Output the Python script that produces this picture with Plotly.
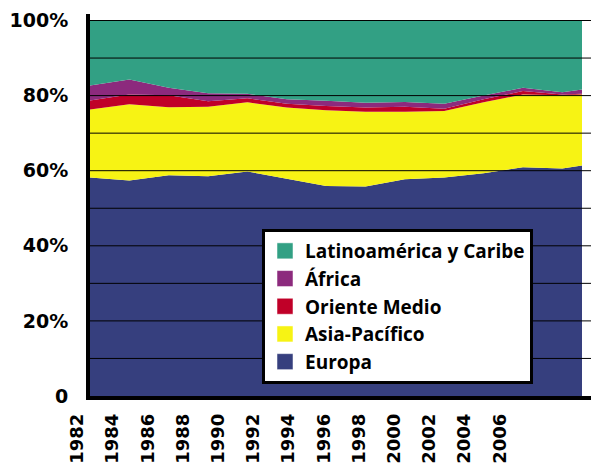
import plotly.graph_objects as go

years = [1982, 1984, 1986, 1988, 1990, 1992, 1994, 1996, 1998, 2000, 2002, 2004, 2006, 2007]
europa = [58.2, 57.4, 58.8, 58.5, 59.8, 57.8, 55.9, 55.8, 57.7, 58.2, 59.3, 60.9, 60.6, 61.4]
asia_pacifico = [18.1, 20.3, 18.1, 18.5, 18.4, 19.0, 20.2, 19.9, 18.0, 17.7, 18.9, 19.4, 19.5, 18.9]
oriente_medio = [2.4, 2.6, 3.2, 1.5, 1.1, 1.0, 1.1, 1.1, 1.3, 0.6, 0.8, 0.9, 0.2, 0.2]
africa = [4.0, 4.0, 2.0, 2.1, 1.2, 1.2, 1.4, 1.3, 1.3, 1.3, 1.0, 0.9, 0.6, 1.1]
latinoamerica = [17.3, 15.7, 17.9, 19.4, 19.5, 21.0, 21.4, 21.9, 21.7, 22.2, 20.0, 17.9, 19.1, 18.4]

year_ticks = [1982, 1984, 1986, 1988, 1990, 1992, 1994, 1996, 1998, 2000, 2002, 2004, 2006]
y_ticks = [0, 20, 40, 60, 80, 100]
y_ticktext = ["0", "20%", "40%", "60%", "80%", "100%"]
grid_values = [10, 20, 30, 40, 50, 60, 70, 80, 90, 100]

series = [
    ("Europa", europa, "#363F7E"),
    ("Asia-Pacífico", asia_pacifico, "#F7F314"),
    ("Oriente Medio", oriente_medio, "#C00028"),
    ("África", africa, "#8C2A7D"),
    ("Latinoamérica y Caribe", latinoamerica, "#32A084"),
]

fig = go.Figure()
for name, vals, col in series:
    fig.add_trace(go.Scatter(
        x=years, y=vals, name=name, stackgroup="one", mode="lines",
        line=dict(width=0, color=col), fillcolor=col,
        legendgroup=name, showlegend=False,
    ))

# legend entries (square swatches), in the reference's order
for name, vals, col in reversed(series):
    fig.add_trace(go.Scatter(
        x=[None], y=[None], name=name, mode="markers",
        marker=dict(symbol="square", size=16, color=col,
                    line=dict(color="rgba(255,255,255,0.5)", width=1)),
        legendgroup=name, showlegend=True, xaxis="x2", yaxis="y",
        hoverinfo="skip",
    ))

ML, MR, MT, MB = 60, 0, 14, 67
W, H = 591, 463
pw = W - ML - MR
ph = H - MT - MB

left_px = 90  # plot left edge (absolute)
px_per_year = (582 - left_px) / (2007 - 1982)
x_max = 1982 + (W - left_px) / px_per_year

# label axis
lab_px_per_year = (499.7 - 77.3) / 24
lab_min = 1982 - (77.3 - ML) / lab_px_per_year
lab_max = 1982 + (W - 77.3) / lab_px_per_year

y_scale = (396 - 20.5) / 100
y_max = 100 + (20.5 - MT) / y_scale

shapes = [
    dict(type="line", xref="x domain", x0=0, x1=1, yref="y", y0=v, y1=v,
         line=dict(color="black", width=1), layer="above")
    for v in grid_values
]

fig.update_layout(
    width=W, height=H,
    margin=dict(l=ML, r=MR, t=MT, b=MB, pad=0, autoexpand=False),
    paper_bgcolor="white", plot_bgcolor="rgba(0,0,0,0)",
    showlegend=True,
    xaxis=dict(domain=[(left_px - ML) / pw, 1], range=[1982, x_max],
               showticklabels=False, ticks="", showgrid=False, zeroline=False,
               showline=True, linewidth=4, linecolor="black", anchor="y",
               automargin=False),
    xaxis2=dict(domain=[0, 1], range=[lab_min, lab_max], anchor="y",
                tickmode="array", tickvals=year_ticks,
                ticktext=[str(y) for y in year_ticks],
                tickangle=-90, ticks="", showgrid=False, zeroline=False,
                showline=False, ticklabelstandoff=13, automargin=False,
                tickfont=dict(family="DejaVu Sans", size=18, color="black", weight="bold")),
    yaxis=dict(domain=[0, 1], range=[0, y_max],
               tickmode="array", tickvals=y_ticks, ticktext=y_ticktext,
               ticks="", showgrid=False, zeroline=False,
               showline=True, linewidth=4, linecolor="black", anchor="x",
               ticklabelstandoff=14, automargin=False,
               tickfont=dict(family="DejaVu Sans", size=19, color="black", weight="bold")),
    legend=dict(x=(262 - ML) / pw, y=(MT + ph - 229) / ph, xanchor="left", yanchor="top",
                bgcolor="white", bordercolor="black", borderwidth=3,
                font=dict(family="Open Sans", size=19, color="black", weight="bold"),
                traceorder="normal", itemsizing="trace"),
    shapes=shapes,
)

fig.write_html("out.html", config={"displayModeBar": False},
               post_script="document.body.style.margin='0';")
